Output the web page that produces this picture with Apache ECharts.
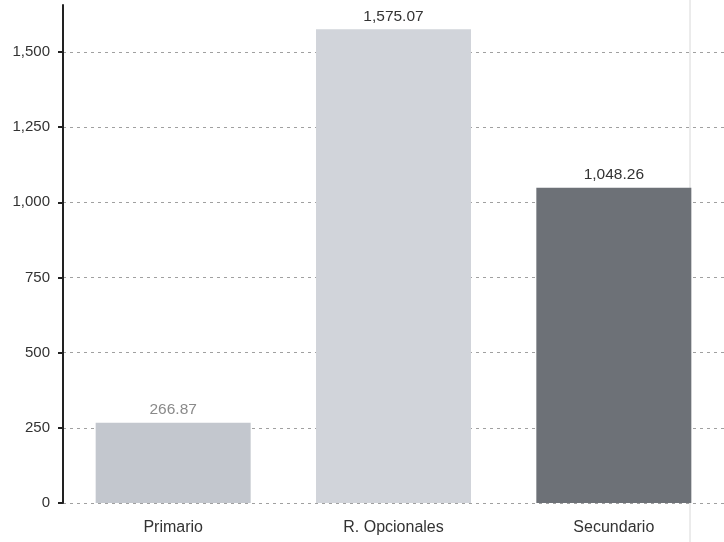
<!DOCTYPE html>
<html>
<head>
<meta charset="utf-8">
<script src="https://cdn.jsdelivr.net/npm/echarts@6/dist/echarts.min.js"></script>
<style>html,body{margin:0;padding:0;background:#fff;}#c{width:724px;height:542px;}</style>
</head>
<body>
<div id="c"></div>
<script>
const categories = ['Primario', 'R. Opcionales', 'Secundario'];
const values = [266.87, 1575.07, 1048.26];
const labelTexts = ['266.87', '1,575.07', '1,048.26'];
const barColors = ['#c3c7ce', '#d1d4da', '#6d7177'];
const labelColors = ['#8a8a8a', '#333333', '#333333'];

const chart = echarts.init(document.getElementById('c'), null, {renderer: 'canvas'});
chart.setOption({
  animation: false,
  grid: {left: 63, right: -4, top: 5, bottom: 39, containLabel: false},
  xAxis: {
    type: 'category',
    data: categories,
    axisLine: {show: false},
    axisTick: {show: false},
    axisLabel: {color: '#333', fontFamily: 'Liberation Sans, Arial', fontSize: 16, margin: 17}
  },
  yAxis: {
    type: 'value',
    min: 0,
    max: 1656,
    interval: 250,
    axisLine: {show: true, lineStyle: {color: '#222', width: 2}},
    axisTick: {show: true, length: 5, lineStyle: {color: '#222', width: 2}},
    axisLabel: {
      color: '#333', fontFamily: 'Liberation Sans, Arial', fontSize: 15, margin: 13,
      showMaxLabel: false,
      formatter: v => v.toLocaleString('en-US')
    },
    splitLine: {show: true, showMaxLine: false, lineStyle: {color: '#a0a0a0', type: [3, 4], width: 1}}
  },
  series: [{
    type: 'bar',
    barWidth: 155,
    data: values.map((v, i) => ({
      value: v,
      itemStyle: {color: barColors[i]},
      label: {show: true, position: 'top', distance: 5, formatter: labelTexts[i], color: labelColors[i], fontFamily: 'Liberation Sans, Arial', fontSize: 15.5}
    }))
  }],
  graphic: [{
    type: 'line',
    shape: {x1: 690, y1: 0, x2: 690, y2: 542},
    style: {stroke: '#d8d8d8', lineWidth: 1},
    z: -1
  }]
});
</script>
</body>
</html>
